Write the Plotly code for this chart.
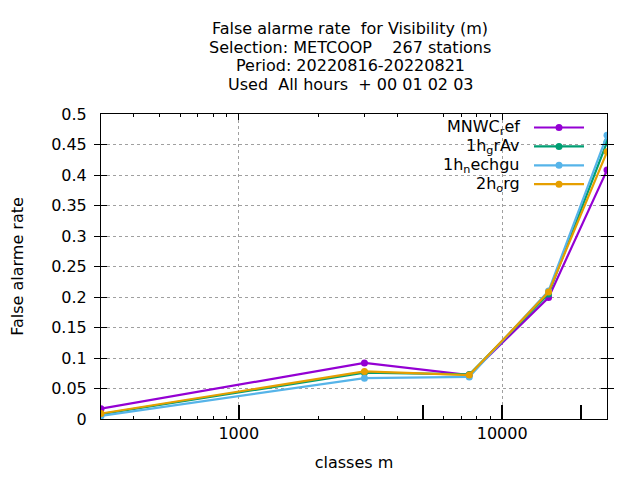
import plotly.graph_objects as go

# visibility classes (m) and false alarm rate per model
classes = [300, 3000, 7500, 15000, 25000]
mnwc_ref = [0.017, 0.092, 0.072, 0.199, 0.408]
h1_grav = [0.008, 0.076, 0.073, 0.205, 0.454]
h1_nechgu = [0.005, 0.067, 0.069, 0.210, 0.465]
h2_org = [0.009, 0.078, 0.072, 0.208, 0.438]

names = ["MNWC<sub>r</sub>ef", "1h<sub>g</sub>rAv", "1h<sub>n</sub>echgu", "2h<sub>o</sub>rg"]
colors = ["#9400d3", "#009e73", "#56b4e9", "#e69f00"]
series = [mnwc_ref, h1_grav, h1_nechgu, h2_org]

title_lines = [
    "False alarme rate  for Visibility (m)",
    "Selection: METCOOP    267 stations",
    "Period: 20220816-20220821",
    "Used  All hours  + 00 01 02 03",
]

FONT = "DejaVu Sans"
FS = 16

# the page body adds an 8px offset, so the figure is drawn a bit smaller
OFF = 8
W, H = 624, 464
# wanted plot box in screen pixels
PX0, PX1, PY0, PY1 = 101, 607, 114, 419
L, T = PX0 - OFF, PY0 - OFF
R, B = W - (PX1 - OFF), H - (PY1 - OFF)
plot_w = PX1 - PX0
plot_h = PY1 - PY0

fig = go.Figure()
for name, col, vals in zip(names, colors, series):
    fig.add_trace(go.Scatter(x=classes, y=vals, name=name, mode="lines+markers",
                             line=dict(color=col, width=2.2),
                             marker=dict(color=col, size=7, symbol="circle"),
                             showlegend=False))

minor_x = [400, 500, 600, 700, 800, 900, 2000, 3000, 4000, 6000, 7000, 8000, 9000]

fig.update_layout(
    width=W, height=H,
    margin=dict(l=L, r=R, t=T, b=B, autoexpand=False),
    paper_bgcolor="white", plot_bgcolor="white",
    font=dict(family=FONT, size=FS, color="black"),
    xaxis=dict(type="log", range=[2.4771, 4.3979], automargin=False,
               tickvals=[1000, 10000], ticktext=["1000", "10000"],
               ticks="inside", ticklen=6, tickcolor="black",
               showline=True, linecolor="black", linewidth=1, mirror="allticks",
               showgrid=True, gridcolor="#a0a0a0", griddash="dot", gridwidth=1,
               zeroline=False, tickfont=dict(size=FS),
               minor=dict(tickvals=minor_x, ticks="inside", ticklen=3, tickcolor="black", showgrid=False),
               title=dict(text="classes m", standoff=16, font=dict(size=FS))),
    xaxis2=dict(type="log", range=[2.4771, 4.3979], overlaying="x", anchor="y", side="bottom",
                tickvals=[1000, 5000, 10000, 20000], showticklabels=False, automargin=False,
                ticks="inside", ticklen=14, tickwidth=2, tickcolor="black",
                showgrid=False, showline=False, zeroline=False),
    yaxis=dict(range=[0, 0.5], dtick=0.05, automargin=False,
               ticks="inside", ticklen=6, tickcolor="black",
               showline=True, linecolor="black", linewidth=1, mirror="allticks",
               showgrid=True, gridcolor="#a0a0a0", griddash="dot", gridwidth=1,
               zeroline=False, ticklabelstandoff=10, tickfont=dict(size=FS),
               title=dict(text="False alarme rate", standoff=26, font=dict(size=FS))),
)

# dummy trace so the overlay axis carrying the long ticks is drawn
fig.add_trace(go.Scatter(x=[classes[0]], y=[None], xaxis="x2", showlegend=False, hoverinfo="skip"))

# multi-line title
for i, line in enumerate(title_lines):
    fig.add_annotation(text=line, xref="paper", yref="paper", x=0.5, y=1, xshift=-4,
                       yshift=PY0 - 28.5 - i * 18.6, showarrow=False,
                       xanchor="center", yanchor="middle", font=dict(size=FS))

# gnuplot style key: label right aligned, sample to the right
for i, (name, col) in enumerate(zip(names, colors)):
    ypx = 127.5 + i * 18.9
    yp = 1 - (ypx - PY0) / plot_h
    fig.add_annotation(text=name, xref="paper", yref="paper", x=(522 - PX0) / plot_w, y=yp,
                       showarrow=False, xanchor="right", yanchor="middle", font=dict(size=FS))
    fig.add_shape(type="line", xref="paper", yref="paper",
                  x0=(534 - PX0) / plot_w, x1=(584 - PX0) / plot_w, y0=yp, y1=yp,
                  line=dict(color=col, width=2.2))
    xc = (559 - PX0) / plot_w
    r = 3.5
    fig.add_shape(type="circle", xref="paper", yref="paper",
                  x0=xc - r / plot_w, x1=xc + r / plot_w, y0=yp - r / plot_h, y1=yp + r / plot_h,
                  fillcolor=col, line=dict(color=col, width=0))

fig.write_html("out.html")
